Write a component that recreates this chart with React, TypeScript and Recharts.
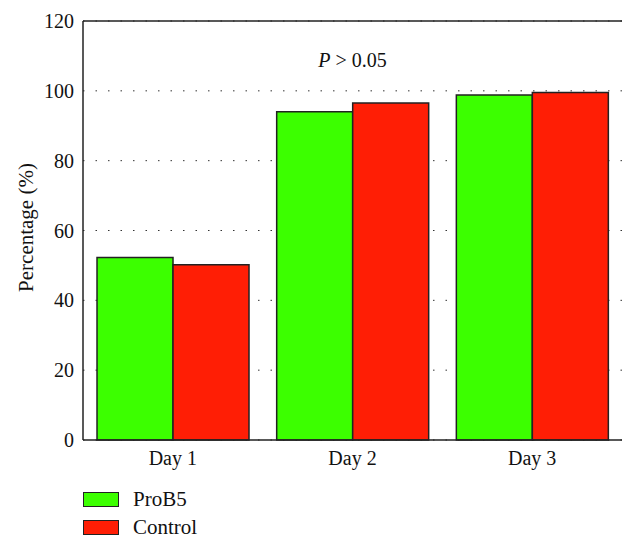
import React from "react";
import {
	Bar,
	BarChart,
	CartesianGrid,
	ReferenceDot,
	ReferenceLine,
	XAxis,
	YAxis,
} from "recharts";

const days = ["Day 1", "Day 2", "Day 3"];
const prob5Values = [52.3, 94.0, 98.8];
const controlValues = [50.2, 96.5, 99.5];
const yTicks = [0, 20, 40, 60, 80, 100, 120];
const seriesNames = ["ProB5", "Control"];
const seriesColors = ["#3cff00", "#ff1e05"];
const pValueText = "> 0.05";

const data = days.map((day, i) => ({
	day,
	prob5: prob5Values[i],
	control: controlValues[i],
}));

const font = "Liberation Serif, DejaVu Serif, serif";
const ink = "#222";

const YLabel = (props: any) => {
	const vb = props.viewBox || { x: 23, y: 21, width: 60, height: 419 };
	const x = vb.x + 3;
	const y = vb.y + vb.height / 2 - 3;
	return (
		<text
			x={x}
			y={y}
			transform={`rotate(-90 ${x} ${y})`}
			textAnchor="middle"
			dominantBaseline="central"
			fontFamily={font}
			fontSize={21}
			fill="#111"
		>
			Percentage (%)
		</text>
	);
};

const PLabel = (props: any) => {
	const vb = props.viewBox || { x: 0, y: 0, width: 0, height: 0 };
	const cx = vb.x + (vb.width || 0) / 2;
	const cy = vb.y + (vb.height || 0) / 2;
	return (
		<text
			x={cx}
			y={cy}
			textAnchor="middle"
			dominantBaseline="central"
			fontFamily={font}
			fontSize={20}
			fill="#111"
		>
			<tspan fontStyle="italic">P</tspan> {pValueText}
		</text>
	);
};

export default function App() {
	return (
		<div
			style={{
				position: "absolute",
				left: 0,
				top: 0,
				width: 637,
				height: 550,
				background: "#fff",
			}}
		>
			<BarChart
				width={637}
				height={550}
				data={data}
				margin={{ top: 21, right: 15, bottom: 80, left: 23 }}
				barCategoryGap="7.8%"
				barGap={0}
			>
				<CartesianGrid
					vertical={false}
					stroke="#333"
					strokeDasharray="1.5 11"
				/>
				<XAxis
					dataKey="day"
					height={30}
					tickLine={false}
					tickSize={0}
					tickMargin={11}
					axisLine={{ stroke: ink, strokeWidth: 1.5 }}
					tick={{ fontFamily: font, fontSize: 20, fill: "#111" }}
				/>
				<YAxis
					width={60}
					domain={[0, 120]}
					ticks={yTicks}
					tickLine={false}
					tickSize={0}
					tickMargin={9}
					axisLine={{ stroke: ink, strokeWidth: 1.5 }}
					tick={{ fontFamily: font, fontSize: 20, fill: "#111" }}
					label={{ content: YLabel }}
				/>
				<YAxis
					yAxisId="right"
					orientation="right"
					width={0}
					domain={[0, 120]}
					tick={false}
					tickLine={false}
					axisLine={{ stroke: ink, strokeWidth: 1.5 }}
				/>
				<ReferenceLine y={120} stroke={ink} strokeWidth={1.5} />
				<Bar
					dataKey="prob5"
					name={seriesNames[0]}
					fill={seriesColors[0]}
					stroke={ink}
					strokeWidth={1.5}
					isAnimationActive={false}
				/>
				<Bar
					dataKey="control"
					name={seriesNames[1]}
					fill={seriesColors[1]}
					stroke={ink}
					strokeWidth={1.5}
					isAnimationActive={false}
				/>
				<ReferenceDot
					x="Day 2"
					y={108.9}
					r={0}
					stroke="none"
					fill="none"
					label={{ content: PLabel }}
				/>
			</BarChart>
			{seriesNames.map((name, i) => (
				<div
					key={name}
					style={{
						position: "absolute",
						left: 83,
						top: 491 + i * 27.5,
						height: 17,
						display: "flex",
						alignItems: "center",
						fontFamily: font,
						fontSize: 21,
						lineHeight: "17px",
						color: "#111",
						whiteSpace: "nowrap",
					}}
				>
					<div
						style={{
							width: 34,
							height: 13,
							background: seriesColors[i],
							border: `1.5px solid ${ink}`,
							marginRight: 14,
						}}
					/>
					<span>{name}</span>
				</div>
			))}
		</div>
	);
}
